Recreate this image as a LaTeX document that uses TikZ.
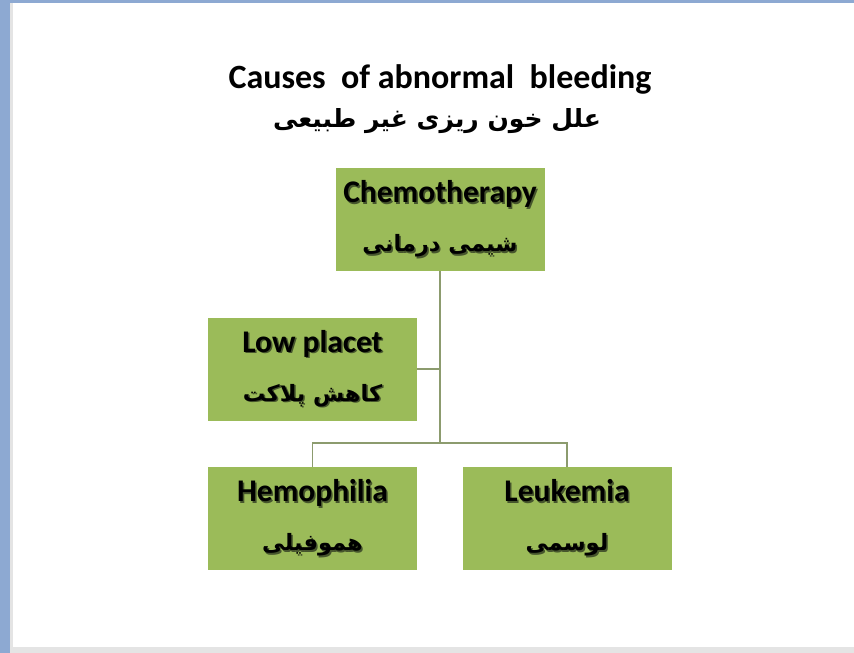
\documentclass[tikz,border=0pt]{standalone}
\usepackage{fontspec}
\setmainfont{Carlito}
\newfontfamily\arfont[Script=Arabic]{DejaVu Sans}
\TeXXeTstate=1
\definecolor{boxgreen}{RGB}{155,187,89}
\definecolor{linecol}{RGB}{140,155,110}
\definecolor{frameblue}{RGB}{141,169,210}
\definecolor{shadowgray}{RGB}{228,228,228}
\definecolor{txtshadow}{RGB}{70,85,45}
\newcommand{\ar}[2][22]{{\arfont\bfseries\fontsize{#1}{#1}\selectfont\beginR #2\endR}}
\newcommand{\shd}[1]{\setbox0\hbox{#1}\leavevmode\rlap{\kern1.5pt\raisebox{-1.5pt}{\color{txtshadow}\copy0}}\box0}
\begin{document}
\begin{tikzpicture}[x=1pt,y=-1pt,
  box/.style={fill=boxgreen, minimum width=209pt, minimum height=103pt, inner sep=0pt, align=center,
    font=\bfseries\fontsize{31.5}{32}\selectfont},
  conn/.style={draw=linecol, line width=1.8pt},
  title/.style={font=\bfseries\fontsize{34}{38}\selectfont, inner sep=0pt}]
\useasboundingbox (0,0) rectangle (854,653);
\fill[frameblue] (0,0) rectangle (854,653);
\fill[shadowgray] (10,3) rectangle (854,653);
\fill[white] (13,3) rectangle (854,647);

\node[title] (t1) at (440,79) {Causes\ \ of abnormal\ \ bleeding};
\node[inner sep=0pt] (t2) at (437,121) {\ar[25]{علل خون ریزی غیر طبیعی}};

\node[box] (chemo) at (440,219.5) {\shd{Chemotherapy}\\[17pt]\shd{\ar[22.5]{شیمی درمانی}}};
\node[box] (low) at (312.5,369) {\shd{Low placet}\\[17pt]\shd{\ar[22.5]{کاهش پلاکت}}};
\node[box] (hemo) at (312.5,518.5) {\shd{Hemophilia}\\[17pt]\shd{\ar[22.5]{هموفیلی}}};
\node[box] (leuk) at (567,518.5) {\shd{Leukemia}\\[17pt]\shd{\ar[22.5]{لوسمی}}};

\coordinate (j) at (440,443);
\draw[conn] (chemo.south) -- (j);
\draw[conn] (low.east) -- (low.east -| chemo.south);
\draw[conn] (hemo.north) |- (j) -| (leuk.north);
\end{tikzpicture}
\end{document}
